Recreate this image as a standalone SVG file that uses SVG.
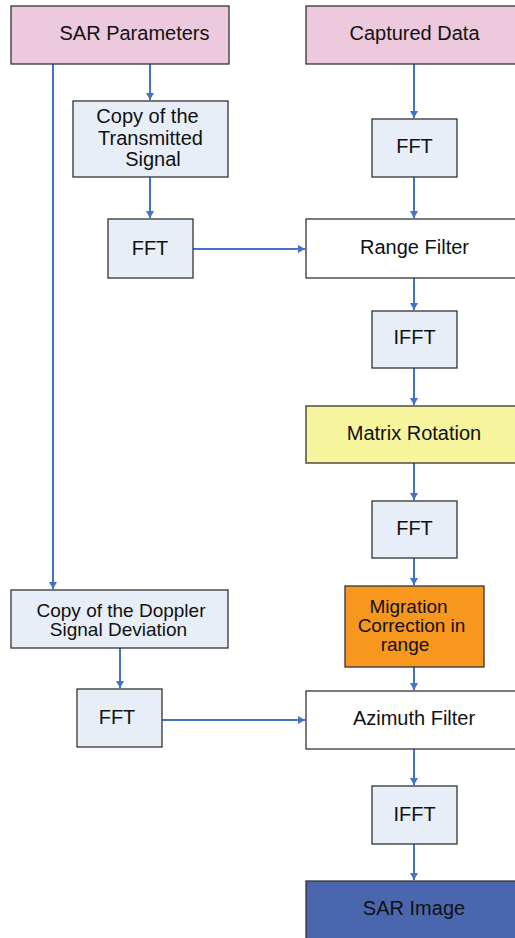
<svg xmlns="http://www.w3.org/2000/svg" width="515" height="938" viewBox="0 0 515 938">
<defs>
<marker id="ah" markerWidth="8" markerHeight="8" refX="7" refY="4" orient="auto" markerUnits="userSpaceOnUse">
<path d="M0,0 L7,4 L0,8 Z" fill="#4472c4"/>
</marker>
<style>
.b{stroke:#333;stroke-width:1.3}
.pink{fill:#ecc9dd}
.lb{fill:#e8eef7}
.w{fill:#fff}
.y{fill:#f6f49d}
.o{fill:#f7971e}
.db{fill:#4a66ae}
text{font-family:"Liberation Sans",Arial,sans-serif;font-size:20px;fill:#111;text-anchor:middle}
text.t{font-size:19px}
.c path{stroke:#4472c4;stroke-width:2;fill:none}
</style>
</defs>
<rect width="515" height="938" fill="#fff"/>
<g class="c" id="connectors">
<path d="M53,64 V589" marker-end="url(#ah)"/>
<path d="M150,64 V100" marker-end="url(#ah)"/>
<path d="M150,177 V218" marker-end="url(#ah)"/>
<path d="M193,249 H305" marker-end="url(#ah)"/>
<path d="M414,64 V118" marker-end="url(#ah)"/>
<path d="M414,177 V218" marker-end="url(#ah)"/>
<path d="M414,278 V310" marker-end="url(#ah)"/>
<path d="M414,368 V405" marker-end="url(#ah)"/>
<path d="M414,463 V500" marker-end="url(#ah)"/>
<path d="M414,558 V585" marker-end="url(#ah)"/>
<path d="M120,648 V688" marker-end="url(#ah)"/>
<path d="M162,720 H305" marker-end="url(#ah)"/>
<path d="M414,667 V690" marker-end="url(#ah)"/>
<path d="M414,749 V785" marker-end="url(#ah)"/>
<path d="M414,844 V880" marker-end="url(#ah)"/>
</g>
<g id="sar-params"><rect class="b pink" x="11" y="6" width="218" height="58"/><text x="134.5" y="40">SAR Parameters</text></g>
<g id="captured"><rect class="b pink" x="306" y="6" width="218" height="58"/><text x="414.5" y="40">Captured Data</text></g>
<g id="copy-tx"><rect class="b lb" x="73" y="101" width="155" height="76"/><text x="147.5" y="123">Copy of the</text><text x="150.5" y="145">Transmitted</text><text x="153" y="166">Signal</text></g>
<g id="fft-l1"><rect class="b lb" x="108" y="219" width="85" height="59"/><text x="150" y="255">FFT</text></g>
<g id="fft-r1"><rect class="b lb" x="372" y="119" width="85" height="58"/><text x="414.5" y="153">FFT</text></g>
<g id="range-filter"><rect class="b w" x="306" y="219" width="218" height="59"/><text x="414.5" y="254">Range Filter</text></g>
<g id="ifft1"><rect class="b lb" x="372" y="311" width="85" height="57"/><text x="414.5" y="344">IFFT</text></g>
<g id="matrix"><rect class="b y" x="306" y="406" width="218" height="57"/><text x="414" y="440">Matrix Rotation</text></g>
<g id="fft-r2"><rect class="b lb" x="372" y="501" width="85" height="57"/><text x="414.5" y="535">FFT</text></g>
<g id="migration"><rect class="b o" x="345" y="586" width="139" height="81"/><text class="t" x="408.5" y="613">Migration</text><text class="t" x="411.5" y="632">Correction in</text><text class="t" x="405" y="651">range</text></g>
<g id="copy-doppler"><rect class="b lb" x="11" y="590" width="217" height="58"/><text class="t" x="121" y="617">Copy of the Doppler</text><text class="t" x="118.5" y="636">Signal Deviation</text></g>
<g id="fft-l2"><rect class="b lb" x="77" y="689" width="85" height="58"/><text x="117" y="724">FFT</text></g>
<g id="azimuth"><rect class="b w" x="306" y="691" width="218" height="58"/><text x="414" y="725">Azimuth Filter</text></g>
<g id="ifft2"><rect class="b lb" x="372" y="786" width="85" height="58"/><text x="414.5" y="821">IFFT</text></g>
<g id="sar-image"><rect class="b db" x="306" y="881" width="218" height="70"/><text x="414" y="915">SAR Image</text></g>
</svg>
